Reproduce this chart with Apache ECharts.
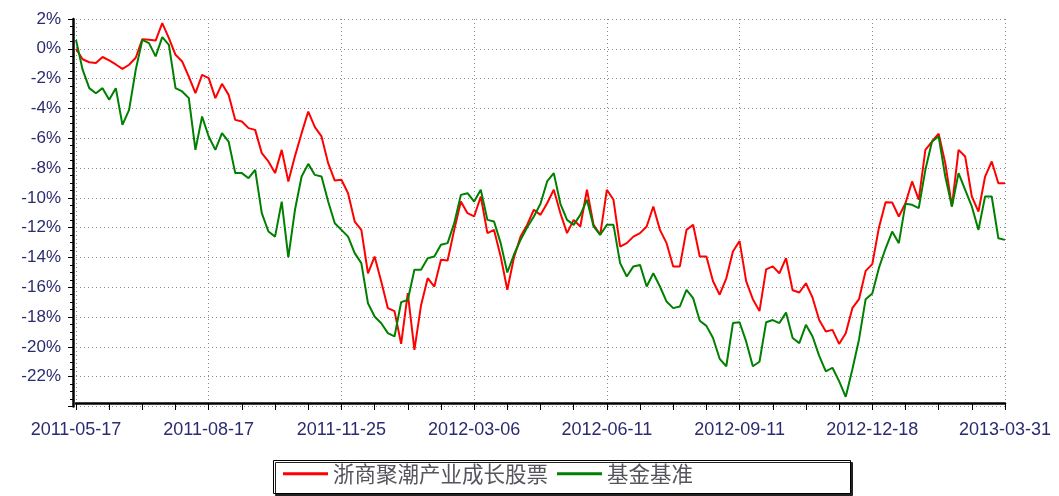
<!DOCTYPE html>
<html>
<head>
<meta charset="utf-8">
<script src="https://cdn.jsdelivr.net/npm/echarts@6/dist/echarts.min.js"></script>
<style>
  html, body { margin: 0; padding: 0; background: #fff; }
  #chart { width: 1059px; height: 496px; }
</style>
</head>
<body>
<div id="chart"></div>
<script>
// x-axis tick labels, one every 20 samples
const xLabels = ['2011-05-17', '2011-08-17', '2011-11-25', '2012-03-06', '2012-06-11', '2012-09-11', '2012-12-18', '2013-03-31']

const seriesNames = ['浙商聚潮产业成长股票', '基金基准']

// cumulative return (%), sampled evenly across the period
const fundValues = [
  0, -0.7, -0.9, -0.95, -0.55, -0.78, -1.05, -1.35, -1.07, -0.6,
  0.65, 0.6, 0.55, 1.72, 0.72, -0.4, -0.85, -1.86, -2.98, -1.75,
  -1.97, -3.31, -2.35, -3.09, -4.77, -4.88, -5.32, -5.44, -7.0, -7.56,
  -8.34, -6.78, -8.9, -7.2, -5.66, -4.21, -5.26, -5.88, -7.67, -8.84,
  -8.79, -9.69, -11.59, -12.15, -15.06, -13.94, -15.62, -17.4, -17.6, -19.8,
  -16.4, -20.2, -17.2, -15.39, -15.95, -14.16, -14.2, -12.15, -10.25, -11.03,
  -11.25, -9.91, -12.37, -12.15, -13.94, -16.17, -14.0, -12.6, -11.8, -10.8,
  -11.14, -10.36, -9.46, -11.03, -12.37, -11.48, -11.92, -9.46, -11.81, -12.48,
  -9.46, -10.13, -13.27, -13.04, -12.6, -12.37, -11.92, -10.58, -12.15, -13.04,
  -14.6, -14.6, -12.15, -11.81, -13.94, -13.94, -15.6, -16.5, -15.4, -13.6,
  -12.9, -15.6, -16.8, -17.6, -14.8, -14.6, -15.06, -14.05, -16.2, -16.35,
  -15.73, -16.7, -18.2, -18.97, -18.86, -19.8, -19.08, -17.4, -16.8, -14.9,
  -14.45, -12.0, -10.3, -10.31, -11.25, -10.36, -8.9, -10.13, -6.78, -6.22,
  -5.7, -7.67, -10.58, -6.78, -7.23, -9.91, -10.92, -8.57, -7.56, -9.02,
  -9.02
]

const benchValues = [
  0.6, -1.4, -2.64, -2.98, -2.64, -3.42, -2.64, -5.1, -4.1, -1.41,
  0.6, 0.38, -0.51, 0.78, 0.27, -2.64, -2.86, -3.31, -6.78, -4.54,
  -5.88, -6.78, -5.66, -6.22, -8.34, -8.34, -8.68, -8.12, -11.03, -12.26,
  -12.6, -10.25, -14.0, -10.8, -8.57, -7.72, -8.46, -8.57, -10.25, -11.7,
  -12.15, -12.6, -13.71, -14.38, -17.07, -17.96, -18.41, -19.08, -19.3, -17.0,
  -16.85, -14.83, -14.83, -14.05, -13.94, -13.15, -13.04, -11.7, -9.8, -9.69,
  -10.25, -9.46, -11.48, -11.59, -13.04, -15.01, -13.8, -12.82, -11.97, -11.25,
  -10.4, -8.9, -8.34, -10.4, -11.48, -11.81, -11.14, -10.13, -11.92, -12.48,
  -11.81, -11.81, -14.38, -15.28, -14.6, -14.5, -15.95, -15.06, -15.95, -16.96,
  -17.4, -17.29, -16.17, -16.73, -18.25, -18.59, -19.4, -20.8, -21.3, -18.4,
  -18.35, -19.65, -21.3, -21.0, -18.35, -18.2, -18.4, -17.7, -19.4, -19.75,
  -18.52, -19.3, -20.6, -21.65, -21.4, -22.3, -23.35, -21.5, -19.5, -16.8,
  -16.42, -14.7, -13.4, -12.26, -13.04, -10.4, -10.47, -10.69, -8.12, -6.22,
  -5.88, -8.57, -10.58, -8.34, -9.46, -10.58, -12.15, -9.91, -9.91, -12.71,
  -12.82
]

const labelColor = '#2b2b70'
const fontFamily = '"Liberation Sans", Arial, "Noto Sans CJK SC", sans-serif'
const gridLine = { show: true, lineStyle: { color: '#8a8a8a', type: [1, 3], width: 1 } }

const chart = echarts.init(document.getElementById('chart'))

const option = {
  animation: false,
  backgroundColor: '#fff',
  textStyle: { fontFamily },
  grid: { left: 76, right: 54, top: 19, bottom: 89.5 },
  graphic: [
    {
      type: 'rect',
      left: 273,
      top: 460,
      z: 0,
      shape: { width: 577, height: 33 },
      style: {
        fill: '#fff',
        stroke: '#000',
        lineWidth: 1,
        shadowColor: '#222',
        shadowBlur: 0,
        shadowOffsetX: 2,
        shadowOffsetY: 2
      }
    }
  ],
  legend: {
    data: seriesNames,
    left: 283,
    top: 463,
    padding: 0,
    itemGap: 9,
    itemWidth: 45,
    itemHeight: 3,
    icon: 'rect',
    textStyle: { fontSize: 21.5, color: '#55555e', fontFamily: '"Noto Sans CJK SC", sans-serif' }
  },
  xAxis: {
    type: 'value',
    min: 0,
    max: 140,
    interval: 20,
    offset: -3.5,
    axisLine: { onZero: false, lineStyle: { color: '#000', width: 2.5 } },
    axisTick: { show: true, length: 7, lineStyle: { color: '#000', width: 1 } },
    minorTick: { show: true, splitNumber: 4, length: 7, lineStyle: { color: '#000', width: 1 } },
    axisLabel: {
      color: labelColor,
      fontSize: 18,
      margin: 18,
      formatter: (v) => xLabels[Math.round(v / 20)] || ''
    },
    splitLine: gridLine
  },
  yAxis: {
    type: 'value',
    min: -24,
    max: 2,
    interval: 2,
    offset: 3,
    axisLine: { show: true, onZero: false, lineStyle: { color: '#000', width: 2.5 } },
    axisTick: { show: true, length: 5, lineStyle: { color: '#000', width: 1 } },
    minorTick: { show: true, splitNumber: 4, length: 3, lineStyle: { color: '#000', width: 1 } },
    axisLabel: {
      color: labelColor,
      fontSize: 17,
      margin: 12,
      showMinLabel: false,
      formatter: (v) => v + '%'
    },
    splitLine: gridLine
  },
  series: [
    {
      name: seriesNames[0],
      type: 'line',
      data: fundValues.map((v, i) => [i, v]),
      showSymbol: false,
      lineStyle: { color: '#ff0000', width: 2 },
      itemStyle: { color: '#ff0000' }
    },
    {
      name: seriesNames[1],
      type: 'line',
      data: benchValues.map((v, i) => [i, v]),
      showSymbol: false,
      lineStyle: { color: '#008000', width: 2 },
      itemStyle: { color: '#008000' }
    }
  ]
}

chart.setOption(option)
</script>
</body>
</html>
